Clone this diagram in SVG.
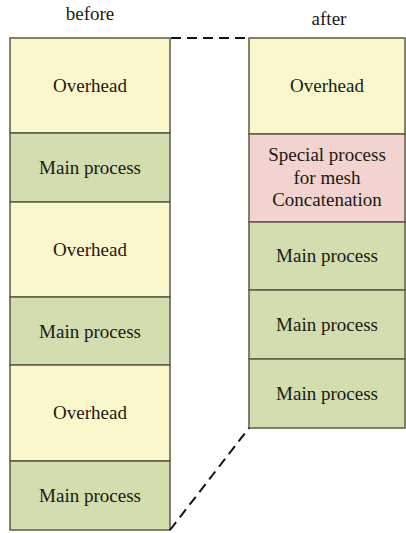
<svg xmlns="http://www.w3.org/2000/svg" width="406" height="533" viewBox="0 0 406 533">
  <style>
    .blk { stroke: #5f5a45; stroke-width: 1.5; }
    .ovh { fill: #fbf7cc; }
    .main { fill: #d2ddb0; }
    .spec { fill: #f2d3cf; }
    text { font-family: "Liberation Serif", "Times New Roman", serif; font-size: 19px; fill: #1a1a14; text-anchor: middle; }
    .lbl { font-size: 19px; }
    .dash { stroke: #111; stroke-width: 2; stroke-dasharray: 10 6; fill: none; }
  </style>
  <rect width="406" height="533" fill="#ffffff"/>

  <text class="lbl" x="90" y="20">before</text>
  <text class="lbl" x="329" y="25">after</text>

  <!-- before: interleaved overhead and main process -->
  <g id="before-overhead-1"><rect class="blk ovh" x="10" y="38" width="160" height="95"/><text x="90" y="92">Overhead</text></g>
  <g id="before-main-1"><rect class="blk main" x="10" y="133" width="160" height="69"/><text x="90" y="174">Main process</text></g>
  <g id="before-overhead-2"><rect class="blk ovh" x="10" y="202" width="160" height="95"/><text x="90" y="256">Overhead</text></g>
  <g id="before-main-2"><rect class="blk main" x="10" y="297" width="160" height="68"/><text x="90" y="338">Main process</text></g>
  <g id="before-overhead-3"><rect class="blk ovh" x="10" y="365" width="160" height="96"/><text x="90" y="419">Overhead</text></g>
  <g id="before-main-3"><rect class="blk main" x="10" y="461" width="160" height="69"/><text x="90" y="502">Main process</text></g>

  <!-- after: single overhead, concatenation step, then main processes -->
  <g id="after-overhead"><rect class="blk ovh" x="249" y="38" width="156" height="96"/><text x="327" y="92">Overhead</text></g>
  <g id="after-special"><rect class="blk spec" x="249" y="134" width="156" height="88"/>
    <text x="327" y="161">Special process</text>
    <text x="327" y="184">for mesh</text>
    <text x="327" y="206">Concatenation</text>
  </g>
  <g id="after-main-1"><rect class="blk main" x="249" y="222" width="156" height="68"/><text x="327" y="262">Main process</text></g>
  <g id="after-main-2"><rect class="blk main" x="249" y="290" width="156" height="69"/><text x="327" y="331">Main process</text></g>
  <g id="after-main-3"><rect class="blk main" x="249" y="359" width="156" height="69"/><text x="327" y="400">Main process</text></g>

  <g id="connectors">
    <line class="dash" x1="171" y1="38" x2="249" y2="38"/>
    <line class="dash" x1="170" y1="530" x2="249" y2="428"/>
  </g>
</svg>
